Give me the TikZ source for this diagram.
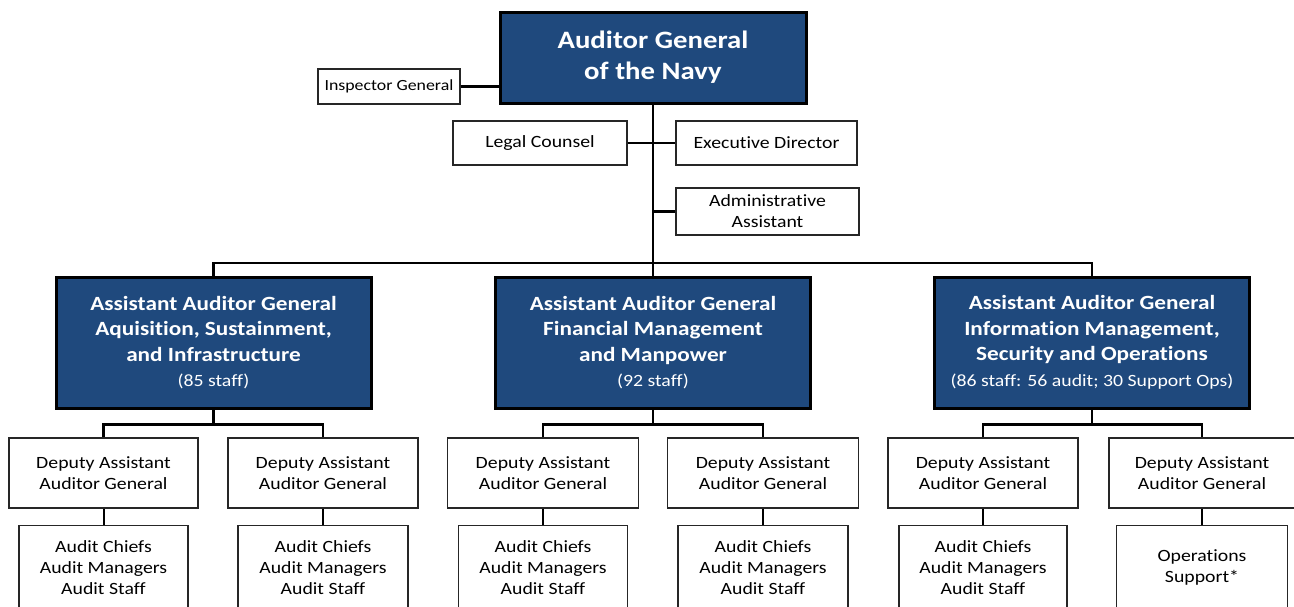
\documentclass[tikz,border=0pt]{standalone}
\usepackage{fontspec}
\setmainfont[FakeStretch=1.15, Ligatures=NoCommon]{Carlito}
\usepackage{tikz}
\definecolor{navyblue}{RGB}{31,73,125}

\begin{document}
\begin{tikzpicture}[x=1pt, y=-1pt,
    boss/.style={draw=black, line width=3pt, fill=navyblue, text=white,
      align=center, inner sep=0pt},
    office/.style={draw=black!85, line width=1.4pt, fill=white, align=center,
      inner sep=0pt, font=\fontsize{17.2}{21}\selectfont},
    link/.style={draw=black, line width=2.4pt}]
    \clip (0,0) rectangle (1294,606);

    % Kierownictwo
    \node[boss, minimum width=306, minimum height=91,
      font=\bfseries\fontsize{25}{31}\selectfont] (agn) at (653,57.5)
      {Auditor General\\of the Navy};

    \node[office, minimum width=142, minimum height=35,
      font=\fontsize{15.5}{19}\selectfont] (ig) at (389,86.5)
      {Inspector General};

    \node[office, minimum width=174, minimum height=44] (legal) at (540,143)
      {Legal Counsel};

    \node[office, minimum width=181, minimum height=44] (exec) at (766.5,143)
      {Executive Director};

    \node[office, minimum width=183, minimum height=47] (admin) at (767.5,211.5)
      {Administrative\\Assistant};

    \draw[link] (ig.east) -- (ig.east -| agn.west);
    \draw[link] (legal.east) -- (exec.west);
    \draw[link] (agn.south) -- (653,263) coordinate (hub);
    \draw[link] (admin.west) -- (admin.west -| hub);



    % Zastepcy
    \node[boss, minimum width=315, minimum height=131,
      font=\bfseries\fontsize{20.2}{25.5}\selectfont] (aag1) at (213.5,342.5)
      {Assistant Auditor General\\Aquisition, Sustainment,\\and Infrastructure\\
      {\mdseries\fontsize{17.2}{20}\selectfont (85 staff)}};

    \node[boss, minimum width=315, minimum height=131,
      font=\bfseries\fontsize{20.2}{25.5}\selectfont] (aag2) at (653,342.5)
      {Assistant Auditor General\\Financial Management\\and Manpower\\
      {\mdseries\fontsize{17.2}{20}\selectfont (92 staff)}};

    \node[boss, minimum width=315, minimum height=131,
      font=\bfseries\fontsize{20.2}{25.5}\selectfont] (aag3) at (1092,342.5)
      {Assistant Auditor General\\Information Management,\\Security and Operations\\
      {\mdseries\fontsize{17.2}{20}\selectfont (86 staff: 56 audit; 30 Support Ops)}};

    \draw[link] (aag1.north) |- (hub) -| (aag3.north);
    \draw[link] (aag2.north) -- (hub);



    % Dyrektorzy
    \node[office, minimum width=189, minimum height=70] (dep1) at (103.5,473)
      {Deputy Assistant\\Auditor General};

    \node[office, minimum width=190, minimum height=70] (dep2) at (323,473)
      {Deputy Assistant\\Auditor General};

    \node[office, minimum width=191, minimum height=70] (dep3) at (543,473)
      {Deputy Assistant\\Auditor General};

    \node[office, minimum width=191, minimum height=70] (dep4) at (763,473)
      {Deputy Assistant\\Auditor General};

    \node[office, minimum width=190, minimum height=70] (dep5) at (983,473)
      {Deputy Assistant\\Auditor General};

    \node[office, minimum width=186, minimum height=70] (dep6) at (1202,473)
      {Deputy Assistant\\Auditor General};

    \draw[link] (aag1.south) -- ++(0,15) coordinate (fork1);
    \draw[link] (dep1.north) |- (fork1) -| (dep2.north);

    \draw[link] (aag2.south) -- ++(0,15) coordinate (fork2);
    \draw[link] (dep3.north) |- (fork2) -| (dep4.north);

    \draw[link] (aag3.south) -- ++(0,15) coordinate (fork3);
    \draw[link] (dep5.north) |- (fork3) -| (dep6.north);



    % Zespoly
    \node[office, minimum width=169, minimum height=84, anchor=north]
      (team1) at (103.5,525) {Audit Chiefs\\Audit Managers\\Audit Staff};

    \node[office, minimum width=170, minimum height=84, anchor=north]
      (team2) at (323,525) {Audit Chiefs\\Audit Managers\\Audit Staff};

    \node[office, minimum width=169, minimum height=84, anchor=north]
      (team3) at (543,525) {Audit Chiefs\\Audit Managers\\Audit Staff};

    \node[office, minimum width=170, minimum height=84, anchor=north]
      (team4) at (763,525) {Audit Chiefs\\Audit Managers\\Audit Staff};

    \node[office, minimum width=168, minimum height=84, anchor=north]
      (team5) at (983,525) {Audit Chiefs\\Audit Managers\\Audit Staff};

    \node[office, minimum width=171, minimum height=84, anchor=north]
      (team6) at (1202,525) {Operations\\Support*};

    \foreach \i in {1,...,6} {
      \draw[link, line width=2pt] (dep\i.south) -- (team\i.north);
    }
  \end{tikzpicture}
\end{document}
